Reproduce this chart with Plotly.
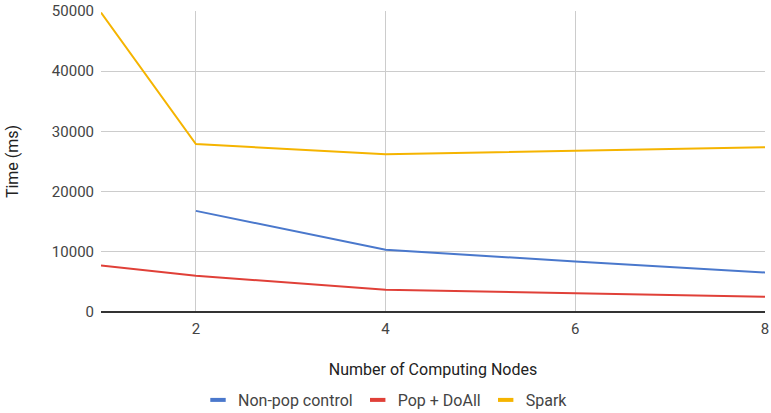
import plotly.graph_objects as go

# Running time vs. number of computing nodes
nodes_spark = [1, 2, 4, 6, 8]
spark_ms = [49750, 27900, 26200, 26750, 27360]

nodes_nonpop = [2, 4, 6, 8]
nonpop_ms = [16800, 10330, 8390, 6570]

nodes_pop = [1, 2, 4, 6, 8]
pop_doall_ms = [7730, 6020, 3700, 3150, 2540]

x_ticks = [2, 4, 6, 8]
y_ticks = [0, 10000, 20000, 30000, 40000, 50000]

series = [
    ("Non-pop control", nodes_nonpop, nonpop_ms, "#4a78cc"),
    ("Pop + DoAll", nodes_pop, pop_doall_ms, "#e04038"),
    ("Spark", nodes_spark, spark_ms, "#f5b400"),
]

fig = go.Figure()
for name, xs, ys, color in series:
    fig.add_trace(go.Scatter(x=xs, y=ys, name=name, mode="lines",
                             line=dict(color=color, width=2), showlegend=False))
# compact legend swatches: short thick bars
for name, xs, ys, color in series:
    fig.add_trace(go.Scatter(x=[None], y=[None], name=name, mode="markers",
                             marker=dict(symbol="line-ew-open", size=11, color=color,
                                         line=dict(color=color, width=4)),
                             showlegend=True))

fig.update_layout(
    width=771, height=413,
    margin=dict(l=101, r=6, t=11, b=101, autoexpand=False),
    paper_bgcolor="white", plot_bgcolor="white",
    font=dict(family="Roboto", size=15, color="#444"),
    showlegend=True,
    legend=dict(orientation="h", xanchor="center", x=0.5, xref="container",
                yanchor="middle", y=13 / 413, yref="container",
                font=dict(size=16, color="#444"), tracegroupgap=0),
)
fig.update_xaxes(
    range=[1, 8], tickvals=x_ticks, ticktext=[str(v) for v in x_ticks],
    showgrid=True, gridcolor="#cccccc", gridwidth=1,
    zeroline=False, showline=False, automargin=False,
    ticklabelstandoff=6,
    tickfont=dict(size=15, color="#444"),
    title=dict(text="Number of Computing Nodes", font=dict(size=16, color="#222"),
               standoff=26),
)
fig.update_yaxes(
    range=[0, 50000], tickvals=y_ticks, ticktext=[str(v) for v in y_ticks],
    showgrid=True, gridcolor="#cccccc", gridwidth=1,
    zeroline=True, zerolinecolor="#333333", zerolinewidth=1.5,
    showline=False, automargin=False, ticklabelstandoff=6,
    tickfont=dict(size=15, color="#444"),
    title=dict(text="Time (ms)", font=dict(size=16, color="#222"), standoff=29),
)

fig.write_html("out.html")
